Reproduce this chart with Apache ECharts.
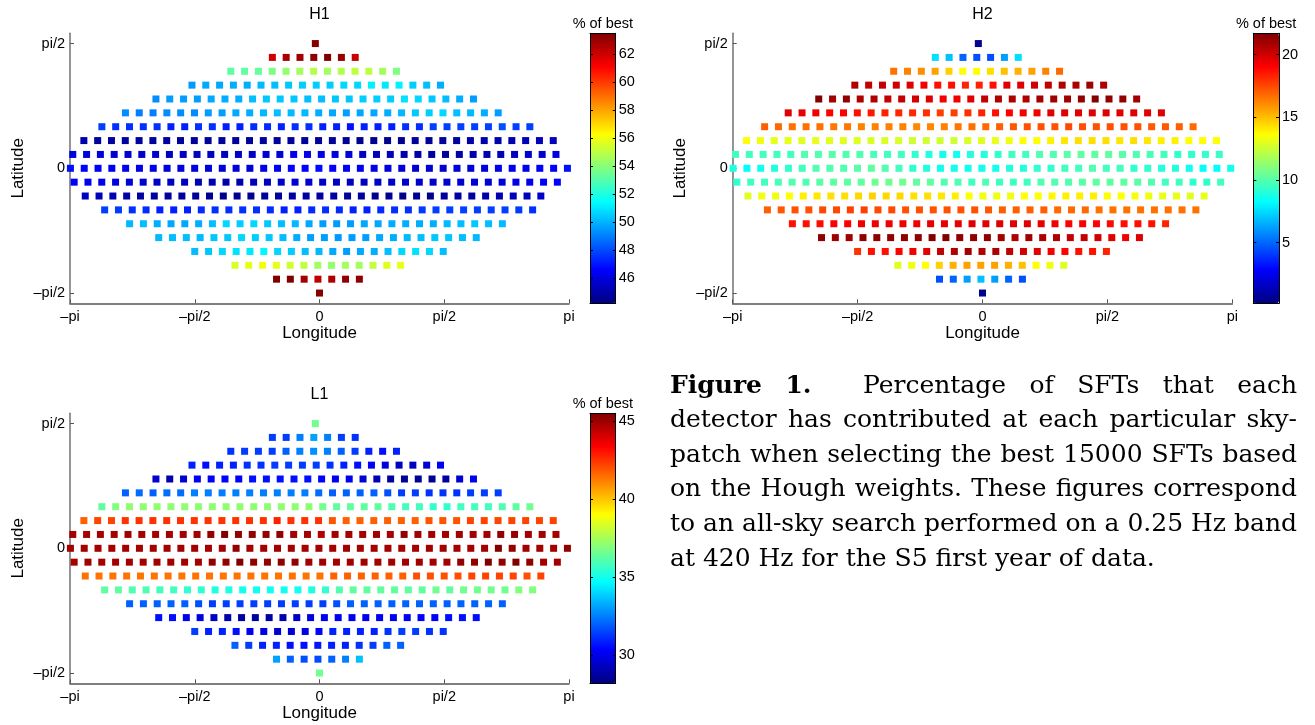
<!DOCTYPE html>
<html>
<head>
<meta charset="UTF-8">
<title>SFT contribution per sky patch</title>
<style>
  html, body { margin: 0; padding: 0; background: #fff; }
  #container { width: 1315px; height: 725px; }
</style>
</head>
<body>
<div id="container"></div>
<script src="https://cdn.jsdelivr.net/npm/echarts@6/dist/echarts.min.js"></script>
<script>
// sky patch grid: one row per latitude (deg), first longitude of each row (deg), patches ~10 deg apart
var lats = [90, 80, 70, 60, 50, 40, 30, 20, 10, 0, -10, -20, -30, -40, -50, -60, -70, -80, -90];
var rowStart = [-3, -34, -64, -92, -118, -140, -157, -170, -178, -179.7, -177, -169, -155, -137, -116, -90, -61, -31, 0];
var lonStep = 9.96;

// % of best, read row by row (left to right)
var h1Rows = [
  [63.4],
  [62.0, 62.7, 62.9, 63.2, 63.5, 63.1, 62.2],
  [53.2, 53.2, 53.3, 53.8, 54.2, 54.5, 54.8, 54.5, 54.8, 55.0, 55.0, 54.5, 53.8],
  [49.5, 49.8, 49.8, 49.9, 49.9, 50.1, 50.2, 50.4, 50.5, 50.5, 50.5, 50.7, 50.7, 51.2, 51.0, 51.2, 50.5, 50.2, 49.9],
  [49.3, 49.6, 49.6, 49.6, 49.8, 49.9, 49.9, 50.2, 50.4, 50.4, 50.4, 50.2, 50.2, 50.4, 50.4, 50.5, 50.5, 50.5, 50.9, 50.7, 50.4, 50.2, 49.9, 49.6],
  [49.3, 49.0, 49.0, 49.3, 49.3, 49.3, 49.6, 49.6, 49.8, 49.9, 50.1, 50.2, 50.1, 50.1, 49.9, 49.8, 49.6, 49.8, 49.8, 49.9, 50.1, 50.4, 50.5, 50.7, 50.2, 50.1, 49.9, 49.6],
  [47.8, 47.5, 47.5, 47.5, 47.5, 47.2, 47.2, 47.5, 47.5, 47.2, 47.2, 47.4, 47.4, 47.2, 47.5, 47.5, 47.2, 47.2, 46.9, 47.2, 47.2, 47.2, 47.5, 47.5, 47.8, 47.8, 47.8, 47.8, 47.8, 48.1, 47.8, 47.8],
  [45.0, 44.8, 44.8, 44.8, 44.8, 44.8, 44.8, 44.7, 44.7, 44.7, 44.7, 44.7, 44.7, 44.7, 44.7, 44.7, 44.7, 44.7, 44.7, 44.5, 44.5, 44.5, 44.5, 44.5, 44.7, 44.7, 44.8, 44.8, 45.0, 45.0, 45.1, 45.1, 45.3, 45.3, 45.4],
  [46.0, 45.9, 45.9, 45.7, 45.6, 45.6, 45.6, 45.4, 45.4, 45.4, 45.4, 45.4, 45.6, 45.6, 45.7, 45.9, 46.3, 46.3, 46.2, 46.0, 45.9, 45.6, 45.4, 45.3, 45.1, 45.0, 44.8, 44.8, 45.0, 45.0, 45.1, 45.3, 45.4, 45.7, 45.7, 46.0],
  [46.9, 46.6, 46.5, 46.3, 46.3, 46.2, 46.2, 46.0, 46.0, 46.0, 45.9, 45.9, 45.9, 45.9, 46.2, 46.5, 46.6, 46.6, 46.8, 46.6, 46.5, 46.3, 46.2, 46.0, 45.9, 45.7, 45.7, 45.7, 45.9, 45.9, 46.0, 46.2, 46.3, 46.3, 46.5, 46.6, 46.9],
  [46.5, 46.3, 46.2, 46.0, 45.9, 45.7, 45.6, 45.4, 45.3, 45.1, 45.1, 45.0, 45.1, 45.3, 45.4, 45.6, 45.7, 45.7, 45.6, 45.4, 45.4, 45.4, 45.6, 45.6, 45.6, 45.6, 45.6, 45.7, 45.7, 45.9, 45.9, 46.0, 46.2, 46.3, 46.5, 46.6],
  [45.4, 45.3, 45.1, 45.0, 44.8, 44.8, 44.7, 44.7, 44.7, 44.5, 44.5, 44.5, 44.5, 44.7, 44.7, 44.8, 44.8, 44.8, 44.8, 44.7, 44.7, 44.5, 44.5, 44.4, 44.5, 44.5, 44.7, 44.8, 44.8, 45.0, 45.1, 45.3, 45.4, 45.6],
  [47.8, 47.7, 47.5, 47.4, 47.2, 47.2, 47.2, 47.4, 47.5, 47.5, 47.5, 47.5, 47.4, 47.2, 47.2, 47.4, 47.5, 47.4, 47.2, 47.2, 47.4, 47.5, 47.5, 47.7, 47.8, 47.8, 47.8, 47.8, 47.8, 47.8, 47.7, 47.5],
  [50.1, 50.2, 49.9, 49.8, 49.8, 49.9, 50.2, 50.7, 50.5, 50.7, 50.4, 50.2, 50.1, 49.8, 49.6, 49.5, 49.6, 49.8, 49.8, 49.9, 49.9, 49.9, 49.9, 50.1, 50.2, 50.4, 50.2, 50.1],
  [50.1, 50.2, 50.2, 50.1, 50.4, 50.4, 50.7, 50.5, 50.4, 50.2, 49.9, 49.6, 49.6, 49.5, 49.6, 49.6, 49.8, 49.9, 50.1, 50.2, 50.4, 50.4, 50.2, 50.1],
  [50.2, 50.4, 50.7, 50.9, 51.0, 51.3, 50.7, 50.5, 50.2, 50.1, 49.8, 49.6, 49.8, 49.9, 50.2, 50.7, 50.9, 50.7, 50.2],
  [55.5, 55.8, 56.0, 55.8, 55.4, 55.1, 54.5, 54.2, 54.5, 54.5, 55.1, 55.7, 55.8],
  [63.5, 63.5, 62.9, 62.3, 62.6, 63.2, 63.2],
  [63.4]
];

var h2Rows = [
  [0.5],
  [7.6, 6.9, 4.9, 4.5, 4.5, 6.2, 7.6],
  [16.6, 16.3, 16.0, 15.6, 14.6, 13.6, 13.6, 14.3, 14.95, 15.3, 15.6, 16.3, 16.8],
  [20.7, 20.3, 20.3, 20.0, 19.7, 19.3, 18.7, 18.7, 18.3, 18.3, 18.7, 19.7, 19.7, 20.0, 20.3, 20.7, 20.7, 21.0, 20.7],
  [21.7, 21.0, 21.35, 20.7, 20.7, 20.3, 20.3, 20.0, 19.7, 19.3, 19.3, 19.7, 20.3, 20.7, 20.7, 20.7, 21.0, 21.0, 21.0, 21.35, 21.7, 21.35, 21.35, 21.0],
  [19.66, 19.5, 19.3, 19.0, 19.0, 18.7, 18.5, 18.3, 18.2, 18.2, 18.0, 17.7, 17.7, 18.0, 18.3, 18.7, 19.0, 19.3, 19.3, 19.66, 19.66, 19.66, 19.66, 19.66, 19.66, 19.66, 19.66, 19.8],
  [17.0, 16.8, 16.6, 16.6, 16.6, 16.5, 16.5, 16.3, 16.3, 16.3, 16.3, 16.15, 16.15, 16.3, 16.5, 16.6, 16.8, 17.0, 17.15, 17.3, 17.3, 17.3, 17.5, 17.3, 17.3, 17.3, 17.3, 17.3, 17.15, 17.15, 17.0, 16.8],
  [13.6, 13.3, 13.1, 13.1, 12.96, 13.1, 12.96, 12.96, 12.96, 12.8, 12.8, 12.8, 12.6, 12.6, 12.6, 12.6, 12.8, 12.96, 13.1, 13.3, 13.6, 13.6, 13.9, 14.1, 14.3, 14.3, 14.3, 14.1, 14.3, 14.1, 13.9, 13.9, 13.6, 13.6, 13.6],
  [9.58, 9.58, 9.58, 9.58, 9.58, 9.92, 9.92, 10.1, 9.92, 9.92, 9.75, 9.58, 9.58, 9.24, 8.9, 8.57, 8.57, 8.9, 8.9, 9.24, 9.58, 9.58, 9.92, 9.92, 10.1, 10.26, 10.26, 10.26, 10.1, 9.92, 9.75, 9.58, 9.24, 9.24, 9.24, 9.4],
  [8.9, 8.23, 8.57, 8.9, 9.24, 9.58, 9.92, 9.92, 9.92, 10.1, 10.26, 9.92, 9.58, 9.24, 8.9, 8.57, 8.57, 8.57, 8.57, 8.57, 8.9, 8.9, 9.24, 9.24, 9.58, 9.58, 9.92, 9.58, 9.58, 9.24, 9.24, 8.9, 8.9, 8.57, 8.23, 8.23, 8.57],
  [9.24, 9.58, 9.58, 9.75, 9.92, 9.92, 10.1, 10.26, 10.26, 10.26, 10.6, 10.6, 10.6, 10.26, 10.26, 9.92, 9.92, 9.58, 9.92, 9.58, 9.58, 9.58, 9.92, 9.92, 9.92, 10.1, 10.26, 10.26, 10.26, 10.1, 9.92, 9.58, 9.58, 9.24, 9.24, 9.58],
  [12.96, 13.3, 13.3, 13.6, 13.94, 14.1, 14.28, 14.28, 14.45, 14.6, 14.45, 14.45, 14.28, 14.28, 14.1, 13.94, 13.6, 13.3, 13.3, 13.3, 13.6, 13.6, 13.77, 13.94, 13.94, 13.94, 13.6, 13.6, 13.45, 13.3, 13.1, 13.1, 12.96, 13.1],
  [17.0, 17.15, 17.3, 17.3, 17.5, 17.5, 17.7, 17.7, 17.5, 17.5, 17.3, 17.3, 17.3, 17.3, 17.3, 17.3, 17.15, 17.0, 17.0, 17.0, 17.0, 16.8, 16.8, 16.8, 16.6, 16.6, 16.6, 16.6, 16.6, 16.6, 16.6, 16.6],
  [18.7, 18.7, 18.8, 19.0, 19.0, 19.3, 19.3, 19.3, 19.3, 19.3, 19.5, 19.5, 19.5, 19.66, 19.66, 19.66, 19.66, 19.66, 19.5, 19.3, 19.0, 19.0, 19.0, 18.8, 18.7, 18.7, 18.7, 18.3],
  [21.35, 21.0, 21.0, 21.35, 21.35, 21.35, 21.35, 21.35, 21.7, 21.7, 21.35, 21.35, 21.35, 21.0, 20.7, 21.0, 20.7, 20.7, 20.3, 20.3, 20.0, 19.66, 19.3, 19.66],
  [18.0, 18.7, 18.7, 19.0, 19.3, 19.66, 20.3, 20.7, 21.0, 20.7, 20.7, 20.3, 20.0, 19.66, 19.3, 19.0, 18.7, 18.7, 18.3],
  [12.96, 13.3, 13.6, 14.6, 15.3, 15.6, 15.6, 15.6, 15.3, 14.95, 13.6, 13.3, 12.96],
  [4.5, 4.9, 6.2, 6.9, 6.2, 4.9, 4.5],
  [0.5]
];

var l1Rows = [
  [36.6],
  [31.4, 31.4, 32.5, 33.1, 32.5, 31.4, 31.2],
  [31.2, 31.4, 31.4, 31.4, 32.0, 32.5, 32.8, 32.5, 32.0, 31.4, 30.9, 30.6, 30.9],
  [30.9, 30.6, 30.9, 30.9, 31.2, 31.2, 31.4, 31.4, 31.4, 31.4, 31.2, 30.9, 30.6, 30.2, 29.84, 29.3, 29.3, 29.6, 30.2],
  [29.6, 29.0, 29.6, 30.1, 30.2, 30.36, 30.2, 30.6, 30.6, 30.6, 30.6, 30.6, 30.36, 30.1, 30.1, 29.6, 29.1, 28.77, 28.5, 28.5, 28.5, 28.77, 29.6, 30.1],
  [32.0, 32.2, 32.0, 32.2, 32.2, 32.5, 32.5, 32.5, 32.5, 32.5, 32.5, 32.5, 32.5, 32.5, 32.2, 32.0, 32.0, 32.0, 32.0, 31.7, 31.4, 31.4, 31.2, 31.2, 31.2, 31.4, 31.4, 31.4],
  [36.3, 36.85, 37.1, 37.1, 37.1, 37.1, 37.1, 37.1, 37.1, 37.1, 37.1, 37.1, 37.1, 37.1, 37.1, 37.1, 36.6, 36.3, 36.3, 36.3, 36.3, 36.0, 35.8, 35.8, 35.5, 35.5, 35.8, 35.8, 35.8, 36.0, 36.3, 36.6],
  [41.7, 42.2, 42.2, 42.5, 42.5, 42.5, 42.5, 42.5, 42.5, 42.5, 42.5, 42.5, 42.5, 42.5, 42.8, 42.5, 42.5, 42.5, 41.9, 41.7, 41.7, 41.7, 41.7, 41.7, 41.7, 41.9, 41.9, 41.9, 42.2, 42.2, 42.2, 42.2, 42.2, 42.2, 42.2],
  [44.9, 44.9, 44.9, 44.9, 44.9, 44.9, 44.9, 44.9, 44.9, 44.9, 45.2, 45.5, 45.2, 45.2, 45.2, 45.2, 44.9, 44.9, 44.65, 44.9, 44.9, 44.9, 44.9, 44.9, 45.2, 44.9, 44.9, 44.9, 44.9, 44.9, 44.9, 45.2, 45.2, 44.9, 44.9, 44.9],
  [44.9, 44.9, 44.9, 44.9, 44.9, 44.9, 44.9, 44.9, 44.9, 44.9, 44.9, 44.9, 45.2, 44.9, 44.9, 44.9, 44.9, 44.9, 44.9, 44.9, 44.9, 44.9, 44.9, 44.9, 44.9, 44.9, 44.9, 44.9, 44.9, 44.9, 44.9, 45.5, 45.2, 44.9, 44.9, 44.9, 45.2],
  [44.9, 44.9, 44.9, 44.9, 44.9, 44.9, 44.9, 44.9, 44.9, 44.9, 45.2, 45.2, 45.5, 45.2, 45.2, 45.2, 45.2, 44.9, 44.9, 44.9, 44.9, 44.9, 44.9, 44.9, 44.9, 44.9, 44.9, 44.9, 45.2, 45.2, 45.5, 45.2, 45.5, 45.2, 44.9, 44.9],
  [41.4, 41.4, 41.4, 41.4, 41.4, 41.4, 41.4, 41.4, 41.4, 41.4, 41.4, 41.4, 41.4, 41.4, 41.4, 41.4, 41.4, 41.4, 41.7, 41.7, 41.7, 41.7, 41.7, 41.7, 42.0, 42.0, 42.0, 42.0, 42.2, 42.2, 42.2, 42.2, 42.0, 42.2],
  [36.3, 36.3, 36.0, 36.0, 35.8, 35.8, 35.5, 35.5, 35.2, 35.2, 34.96, 34.96, 34.96, 34.96, 34.96, 35.2, 35.5, 36.0, 36.3, 36.3, 36.3, 36.3, 36.3, 36.3, 36.6, 36.3, 36.6, 36.6, 36.6, 36.6, 36.85, 36.85],
  [32.0, 32.0, 32.0, 32.0, 32.0, 31.7, 31.4, 31.4, 31.4, 31.4, 31.4, 31.4, 31.4, 31.4, 31.4, 31.7, 32.0, 32.0, 32.0, 32.0, 32.0, 32.0, 32.0, 32.0, 32.0, 32.0, 32.0, 32.0],
  [30.6, 30.6, 30.1, 29.84, 29.3, 29.0, 28.77, 28.77, 28.77, 29.0, 29.3, 29.84, 30.1, 30.1, 30.1, 30.1, 30.1, 30.1, 30.1, 30.36, 30.36, 30.6, 30.6, 30.6],
  [31.4, 30.9, 30.9, 30.6, 30.1, 29.84, 29.6, 29.6, 29.84, 30.3, 30.9, 30.9, 30.9, 30.9, 31.2, 31.4, 31.4, 31.2, 31.2],
  [32.0, 31.4, 30.9, 30.9, 30.6, 30.6, 30.7, 30.9, 30.9, 31.2, 31.4, 32.0, 32.0],
  [33.1, 32.0, 31.7, 31.6, 32.0, 32.5, 33.6],
  [36.6]
];

// colour bar ranges and ticks
var h1Range = [44.2, 63.5];
var h2Range = [0.15, 21.7];
var l1Range = [28.2, 45.5];
var h1Ticks = [46, 48, 50, 52, 54, 56, 58, 60, 62];
var h2Ticks = [5, 10, 15, 20];
var l1Ticks = [30, 35, 40, 45];

var lonTicks = [-180, -90, 0, 90, 180];
var lonLabels = ['\u2013pi', '\u2013pi/2', '0', 'pi/2', 'pi'];
var latTicks = [-90, 0, 90];
var latLabels = ['\u2013pi/2', '0', 'pi/2'];

var captionLines = [
  'Figure 1. Percentage of SFTs that each',
  'detector has contributed at each particular sky-',
  'patch when selecting the best 15000 SFTs based',
  'on the Hough weights. These figures correspond',
  'to an all-sky search performed on a 0.25 Hz band',
  'at 420 Hz for the S5 first year of data.'
];

// jet colormap
var jet = ['#000080', '#0000ff', '#0080ff', '#00ffff', '#80ff80', '#ffff00', '#ff8000', '#ff0000', '#800000'];

function buildPoints(rows) {
  var out = [];
  for (var r = 0; r < rows.length; r++) {
    for (var i = 0; i < rows[r].length; i++) {
      out.push([rowStart[r] + i * lonStep, lats[r], rows[r][i]]);
    }
  }
  return out;
}

var sans = 'Liberation Sans';
var tickFont = { color: '#000', fontFamily: sans, fontSize: 14.5 };

// panel boxes
var panels = [
  { left: 70, top: 33.3, w: 499, h: 270, cb: 590, rows: h1Rows, range: h1Range, ticks: h1Ticks, title: 'H1' },
  { left: 732.7, top: 33.3, w: 499.6, h: 270, cb: 1253.3, rows: h2Rows, range: h2Range, ticks: h2Ticks, title: 'H2' },
  { left: 70, top: 413.3, w: 499, h: 270, cb: 590, rows: l1Rows, range: l1Range, ticks: l1Ticks, title: 'L1' }
];
var cbW = 25.7;

var grids = [], xAxes = [], yAxes = [], series = [], visualMaps = [], graphics = [];

panels.forEach(function (p, k) {
  grids.push({ left: p.left, top: p.top, width: p.w, height: p.h, outerBoundsMode: 'none' });
  xAxes.push({
    gridIndex: k, type: 'value', min: -180, max: 180, interval: 90,
    axisLine: { onZero: false, lineStyle: { color: '#555', width: 1.6 } },
    axisTick: { inside: true, length: 4, lineStyle: { color: '#555' } },
    axisLabel: Object.assign({ margin: 6, formatter: function (v) { return lonLabels[lonTicks.indexOf(v)]; } }, tickFont),
    splitLine: { show: false }
  });
  yAxes.push({
    gridIndex: k, type: 'value', min: -97.4, max: 97.4,
    axisLine: { show: true, onZero: false, lineStyle: { color: '#7a7a7a', width: 1.6 } },
    axisTick: { show: true, inside: true, length: 4, customValues: latTicks, lineStyle: { color: '#555' } },
    axisLabel: Object.assign({ margin: 5, customValues: latTicks, formatter: function (v) { return latLabels[latTicks.indexOf(v)]; } }, tickFont),
    splitLine: { show: false }
  });
  series.push({
    type: 'scatter', xAxisIndex: k, yAxisIndex: k,
    symbol: 'rect', symbolSize: 7, clip: false, silent: true,
    itemStyle: { opacity: 1 },
    data: buildPoints(p.rows)
  });
  visualMaps.push({
    type: 'continuous', seriesIndex: k, dimension: 2,
    min: p.range[0], max: p.range[1],
    left: p.cb, top: p.top, itemWidth: cbW, itemHeight: p.h, padding: 0,
    calculable: false, hoverLink: false,
    inRange: { color: jet }
  });
  var cx = p.left + p.w / 2;
  graphics.push(
    { type: 'text', x: cx, y: p.top - 18.5, style: { text: p.title, fill: '#000', font: '16px "' + sans + '"', align: 'center', verticalAlign: 'middle', textAlign: 'center', textVerticalAlign: 'middle' } },
    { type: 'text', x: cx, y: p.top + p.h + 30, style: { text: 'Longitude', fill: '#000', font: '17px "' + sans + '"', align: 'center', verticalAlign: 'middle', textAlign: 'center', textVerticalAlign: 'middle' } },
    { type: 'text', x: p.left - 52, y: p.top + p.h / 2, rotation: Math.PI / 2, style: { text: 'Latitude', fill: '#000', font: '17px "' + sans + '"', align: 'center', verticalAlign: 'middle', textAlign: 'center', textVerticalAlign: 'middle' } },
    { type: 'text', x: p.cb + cbW / 2, y: p.top - 9.5, style: { text: '% of best', fill: '#000', font: '14.5px "' + sans + '"', align: 'center', verticalAlign: 'middle', textAlign: 'center', textVerticalAlign: 'middle' } }
  );
});

// colour bar frames with tick labels
panels.forEach(function (p, k) {
  var gi = grids.length;
  grids.push({ left: p.cb, top: p.top, width: cbW, height: p.h, outerBoundsMode: 'none' });
  ['bottom', 'top'].forEach(function (pos) {
    xAxes.push({ gridIndex: gi, type: 'value', min: 0, max: 1, position: pos, z: 10,
      axisLine: { show: true, onZero: false, lineStyle: { color: '#000', width: 1 } },
      axisTick: { show: false }, axisLabel: { show: false }, splitLine: { show: false } });
  });
  ['right', 'left'].forEach(function (pos) {
    yAxes.push({ gridIndex: gi, type: 'value', min: p.range[0], max: p.range[1], position: pos, z: 10,
      axisLine: { show: true, onZero: false, lineStyle: { color: '#000', width: 1 } },
      axisTick: { show: true, inside: true, length: 3, customValues: p.ticks, lineStyle: { color: '#000' } },
      axisLabel: Object.assign({ show: pos === 'right', margin: 3, customValues: p.ticks }, tickFont),
      splitLine: { show: false } });
  });
});

// justified caption
var capLeft = 670, capRight = 1297, capTop = 386, capStep = 34.6, capSize = 25;
var serif = 'DejaVu Serif';
var ctx = document.createElement('canvas').getContext('2d');
function capFont(bold) { return (bold ? 'bold ' : '') + capSize + 'px "' + serif + '"'; }
function textW(s, bold) { ctx.font = capFont(bold); return ctx.measureText(s).width; }

captionLines.forEach(function (line, li) {
  var words = line.split(' ');
  var bold = words.map(function (w, i) { return li === 0 && i < 2; });
  var widths = words.map(function (w, i) { return textW(w, bold[i]); });
  var weights = words.slice(1).map(function (w, i) { return (li === 0 && i === 1) ? 2.2 : 1; });
  var sumW = widths.reduce(function (a, b) { return a + b; }, 0);
  var sumWt = weights.reduce(function (a, b) { return a + b; }, 0);
  var last = li === captionLines.length - 1;
  var unit = last ? textW(' ', false) : (capRight - capLeft - sumW) / sumWt;
  var x = capLeft;
  words.forEach(function (w, i) {
    graphics.push({ type: 'text', x: x, y: capTop + li * capStep,
      style: { text: w, fill: '#000', font: capFont(bold[i]), align: 'left', verticalAlign: 'middle', textAlign: 'left', textVerticalAlign: 'middle' } });
    if (i < weights.length) x += widths[i] + unit * (last ? 1 : weights[i]);
  });
});

var myChart = echarts.init(document.getElementById('container'), null, { renderer: 'canvas' });
myChart.setOption({
  animation: false,
  backgroundColor: '#fff',
  grid: grids,
  xAxis: xAxes,
  yAxis: yAxes,
  visualMap: visualMaps,
  series: series,
  graphic: { elements: graphics }
});
</script>
</body>
</html>
